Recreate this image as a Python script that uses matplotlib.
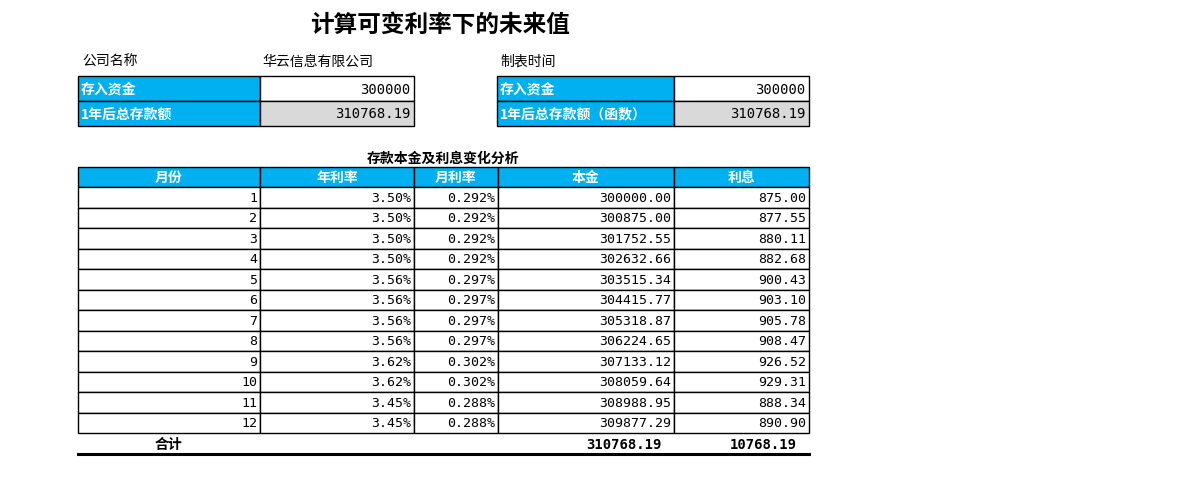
import matplotlib
matplotlib.use("Agg")
import matplotlib.pyplot as plt
from matplotlib.patches import Rectangle

plt.rcParams['font.family'] = ['Noto Sans CJK SC', 'DejaVu Sans']

title = "计算可变利率下的未来值"
company_label = "公司名称"
company = "华云信息有限公司"
date_label = "制表时间"
deposit = 300000
total_after = "310768.19"
headers = ["月份", "年利率", "月利率", "本金", "利息"]
months = [1, 2, 3, 4, 5, 6, 7, 8, 9, 10, 11, 12]
annual = ["3.50%", "3.50%", "3.50%", "3.50%", "3.56%", "3.56%", "3.56%", "3.56%", "3.62%", "3.62%", "3.45%", "3.45%"]
monthly = ["0.292%", "0.292%", "0.292%", "0.292%", "0.297%", "0.297%", "0.297%", "0.297%", "0.302%", "0.302%", "0.288%", "0.288%"]
principal = [300000.00, 300875.00, 301752.55, 302632.66, 303515.34, 304415.77, 305318.87, 306224.65, 307133.12, 308059.64, 308988.95, 309877.29]
interest = [875.00, 877.55, 880.11, 882.68, 900.43, 903.10, 905.78, 908.47, 926.52, 929.31, 888.34, 890.90]
total_principal = "310768.19"
total_interest = "10768.19"

BLUE = "#00B0F0"
GRAY = "#D9D9D9"

fig = plt.figure(figsize=(12, 5.02), dpi=100)
ax = fig.add_axes([0, 0, 1, 1])
ax.set_xlim(0, 1200); ax.set_ylim(502, 0); ax.axis("off")

def cell(x0, x1, y0, y1, fc="white", lw=1):
    ax.add_patch(Rectangle((x0, y0), x1 - x0, y1 - y0, fc=fc, ec="black", lw=lw))

ax.text(440, 25, title, fontsize=17, fontweight="bold", ha="center", va="center")
ax.text(82, 62, company_label, fontsize=10, va="center")
ax.text(262, 62, company, fontsize=10, va="center")
ax.text(500, 62, date_label, fontsize=10, va="center")

# top boxes
for (xa, xb, xc, lbl2) in [(78, 260, 414, "1年后总存款额"), (497, 674, 809, "1年后总存款额（函数）")]:
    cell(xa, xb, 77, 102, BLUE); cell(xb, xc, 77, 102, "white")
    cell(xa, xb, 102, 127, BLUE); cell(xb, xc, 102, 127, GRAY)
    ax.text(xa + 3, 89.5, "存入资金", color="white", fontweight="bold", fontsize=10, va="center")
    ax.text(xa + 3, 114.5, lbl2, color="white", fontweight="bold", fontsize=10, va="center")
    ax.text(xc - 4, 89.5, str(deposit), fontsize=10, va="center", ha="right", family="DejaVu Sans Mono")
    ax.text(xc - 4, 114.5, total_after, fontsize=10, va="center", ha="right", family="DejaVu Sans Mono")

ax.text(443, 159, "存款本金及利息变化分析", fontsize=10, fontweight="bold", ha="center", va="center")

cols = [78, 260, 414, 498, 674, 809]
y0 = 168; hh = 20; rh = (434 - 188) / 12
for i, h in enumerate(headers):
    cell(cols[i], cols[i+1], y0, y0 + hh, BLUE)
    ax.text((cols[i] + cols[i+1]) / 2, y0 + hh / 2, h, color="white", fontweight="bold", fontsize=10, ha="center", va="center")

for r in range(len(months)):
    ya = 188 + r * rh
    vals = [str(months[r]), annual[r], monthly[r], f"{principal[r]:.2f}", f"{interest[r]:.2f}"]
    for i, v in enumerate(vals):
        cell(cols[i], cols[i+1], ya, ya + rh)
        ax.text(cols[i+1] - 3, ya + rh / 2, v, fontsize=9.5, ha="right", va="center", family="DejaVu Sans Mono")

yt = 434
ax.text(169, yt + 11, "合计", fontsize=10, fontweight="bold", ha="center", va="center")
ax.text(662, yt + 11, total_principal, fontsize=10, fontweight="bold", ha="right", va="center", family="DejaVu Sans Mono")
ax.text(797, yt + 11, total_interest, fontsize=10, fontweight="bold", ha="right", va="center", family="DejaVu Sans Mono")
ax.plot([78, 809], [455, 455], color="black", lw=2.2)

fig.savefig("out.png", dpi=100)
